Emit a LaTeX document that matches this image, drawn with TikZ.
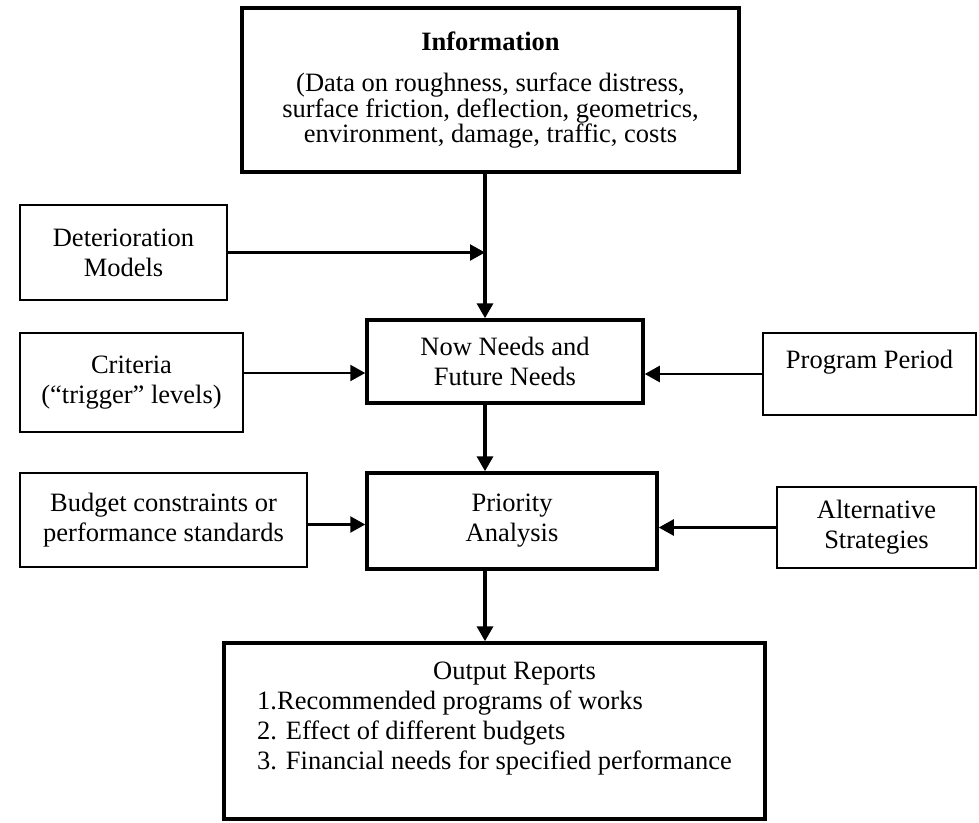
\documentclass[tikz,border=0pt]{standalone}
\usepackage{fontspec}
\setmainfont{Liberation Serif}
\usetikzlibrary{arrows.meta}
\begin{document}
\begin{tikzpicture}[x=1pt,y=1pt]
\tikzstyle{every node}+=[inner sep=0pt,align=center,font=\fontsize{26.5}{30}\selectfont]
\tikzstyle{mainbox}=[draw,line width=3.5pt]
\tikzstyle{inbox}=[draw,line width=1.5pt]
\tikzstyle{flow}=[line width=3.4pt,-{Triangle[length=15pt,width=16pt]}]
\tikzstyle{feed}=[line width=2.4pt,-{Triangle[length=15pt,width=16pt]}]
\useasboundingbox (0,0) rectangle (979,-822);
% main column
\node [mainbox,minimum width=497,minimum height=164,font=\fontsize{26.5}{25.5}\selectfont] (info) at (490.5,-90) {\textbf{Information}\\[16pt](Data on roughness, surface distress,\\surface friction, deflection, geometrics,\\environment, damage, traffic, costs};
\node [mainbox,minimum width=276,minimum height=83] (need) at (505,-361.5) {Now Needs and\\Future Needs};
\node [mainbox,minimum width=290,minimum height=96] (prio) at (512,-521) {Priority\\Analysis};
\node [mainbox,minimum width=541,minimum height=176,align=left] (out) at (494.5,-731) {\hspace*{176pt}Output Reports\\1.Recommended programs of works\\2. Effect of different budgets\\3. Financial needs for specified performance\hspace*{20pt}\\ \mbox{}};
% side inputs
\node [inbox,minimum width=207,minimum height=95] (det) at (123.5,-252.5) {Deterioration\\Models};
\node [inbox,minimum width=223,minimum height=99] (crit) at (131.5,-382.5) {Criteria\\(“trigger” levels)};
\node [inbox,minimum width=287,minimum height=94] (budg) at (163.5,-520) {Budget constraints or\\performance standards};
\node [inbox,minimum width=213,minimum height=82] (prog) at (869.5,-374) {Program Period\\ \mbox{}};
\node [inbox,minimum width=199,minimum height=81] (alt) at (876.5,-527.5) {Alternative\\Strategies};
\coordinate (spine) at (485,0);
% arrows
\draw [flow] (info.south -| spine) -- (need.north -| spine);
\draw [flow] (need.south -| spine) -- (prio.north -| spine);
\draw [flow] (prio.south -| spine) -- (out.north -| spine);
\draw [feed] (det.east) -- (det.east -| spine);
\draw [feed] ([yshift=9.5pt]crit.east) -- ([yshift=9.5pt]crit.east -| need.west);
\draw [feed] (prog.west) -- (prog.west -| need.east);
\draw [feed] ([yshift=-4.5pt]budg.east) -- ([yshift=-4.5pt]budg.east -| prio.west);
\draw [feed] (alt.west) -- (alt.west -| prio.east);
\end{tikzpicture}
\end{document}
